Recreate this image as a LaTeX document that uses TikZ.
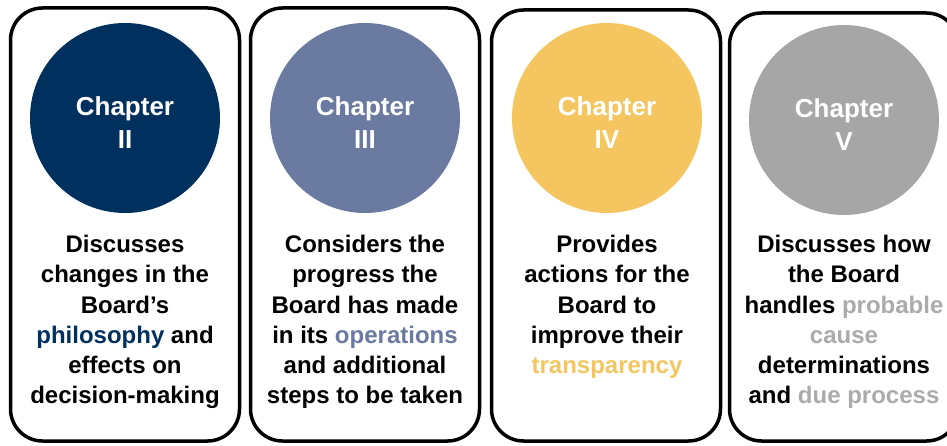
\documentclass[tikz,border=0pt]{standalone}
\usepackage{fontspec}
\setmainfont{Liberation Sans}
\definecolor{cnavy}{HTML}{00305E}
\definecolor{cslate}{HTML}{6A7AA0}
\definecolor{cyellow}{HTML}{F5C660}
\definecolor{cgray}{HTML}{A6A6A6}
\definecolor{tgray}{HTML}{ABABAB}
\tikzset{
  cardbox/.style={draw=black, line width=3.5pt, rounded corners=32pt, minimum width=229pt, inner sep=0pt, fill=white},
  chapcircle/.style={circle, minimum size=190pt, inner sep=0pt},
  chaptext/.style={anchor=base, inner sep=0pt, text=white, font=\fontsize{26}{32.5}\selectfont\bfseries},
  desctext/.style={anchor=base, inner sep=0pt, text=black, font=\fontsize{24}{30}\selectfont\bfseries},
}
\newcommand{\lines}[1]{\begin{tabular}[t]{@{}c@{}}#1\end{tabular}}
\begin{document}
\begin{tikzpicture}[x=1pt,y=-1pt]
\useasboundingbox (0,0) rectangle (947,446);
% cards
\node[cardbox, minimum height=433pt] (b1) at (125,224.5) {};
\node[cardbox, minimum height=433pt] (b2) at (365,224.5) {};
\node[cardbox, minimum height=431pt] (b3) at (606,225.5) {};
\node[cardbox, minimum height=428pt] (b4) at (844,227) {};
% circles
\node[chapcircle, fill=cnavy] (c1) at (125,118) {};
\node[chapcircle, fill=cslate] (c2) at (365,118) {};
\node[chapcircle, fill=cyellow] (c3) at (607,118) {};
\node[chapcircle, fill=cgray] (c4) at (844,120) {};
% chapter labels
\node[chaptext] (t1) at (125,116) {\lines{Chapter\\II}};
\node[chaptext] (t2) at (365,116) {\lines{Chapter\\III}};
\node[chaptext] (t3) at (607,116) {\lines{Chapter\\IV}};
\node[chaptext] (t4) at (844,118) {\lines{Chapter\\V}};
% descriptions
\node[desctext] (d1) at (125,253) {\lines{Discusses\\changes in the\\Board’s\\\textcolor{cnavy}{philosophy} and\\effects on\\decision-making}};
\node[desctext] (d2) at (365,253) {\lines{Considers the\\progress the\\Board has made\\in its \textcolor{cslate}{operations}\\and additional\\steps to be taken}};
\node[desctext] (d3) at (607,253) {\lines{Provides\\actions for the\\Board to\\improve their\\\textcolor{cyellow}{transparency}}};
\node[desctext] (d4) at (844,253) {\lines{Discusses how\\the Board\\handles \textcolor{tgray}{probable}\\\textcolor{tgray}{cause}\\determinations\\and \textcolor{tgray}{due process}}};
\end{tikzpicture}
\end{document}
